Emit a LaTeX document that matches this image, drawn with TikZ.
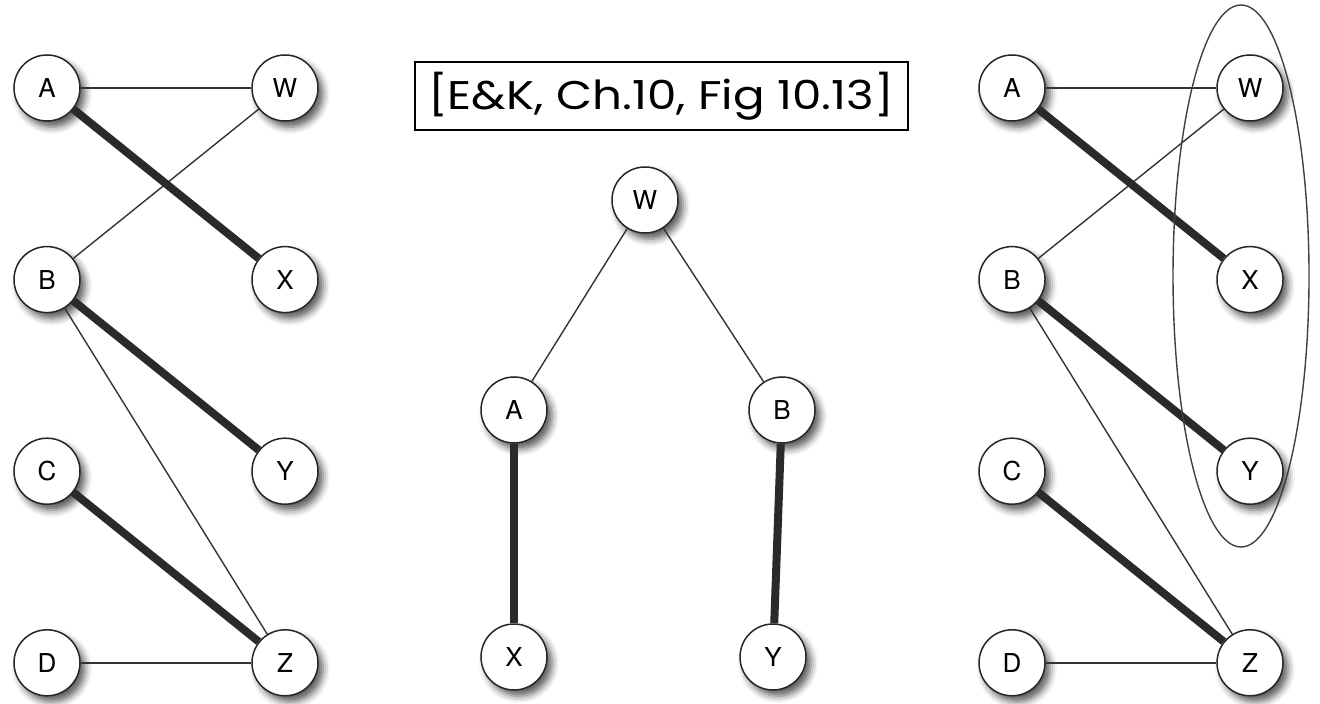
\documentclass[tikz,border=0pt]{standalone}
\usepackage{fontspec}
\setmainfont{TeX Gyre Heros}
\newfontfamily\reffont[FakeStretch=1.17]{Poppins}
\usetikzlibrary{positioning,shadows.blur}
\definecolor{edgedark}{HTML}{2A2A2A}
\tikzset{
  vert/.style={
    circle, draw=black!85, fill=white, line width=0.75pt,
    minimum size=33pt, inner sep=0pt, font=\fontsize{13}{15}\selectfont,
    blur shadow={shadow xshift=2.5pt, shadow yshift=-3pt,
      shadow blur radius=3.5pt, shadow opacity=65}
  },
  edge/.style={
    line width=0.7pt, black!80
  },
  match/.style={
    line width=4pt, edgedark
  },
  refbox/.style={
    draw, line width=1pt, minimum width=246.5pt, minimum height=34pt,
    font=\reffont\fontsize{20}{22}\selectfont
  },
  grupo/.style={
    line width=0.7pt, black!75
  }
}

\begin{document}
\begin{tikzpicture}[x=0.5pt, y=-0.5pt, on grid]
\useasboundingbox (0,0) rectangle (1320,704);

% grafo izquierdo
\node[vert] (lA) at (47,88) {A};
\node[vert, right=119pt of lA] (lW) {W};
\node[vert, below=95.8pt of lA] (lB) {B};
\node[vert, right=119pt of lB] (lX) {X};
\node[vert, below=95.8pt of lB] (lC) {C};
\node[vert, right=119pt of lC] (lY) {Y};
\node[vert, below=95.8pt of lC] (lD) {D};
\node[vert, right=119pt of lD] (lZ) {Z};

% arbol del centro
\node[vert] (mW) at (645,200) {W};
\node[vert, below left=105pt and 65.5pt of mW] (mA) {A};
\node[vert, below right=105pt and 68.5pt of mW] (mB) {B};
\node[vert, below=123.5pt of mA] (mX) {X};
\node[vert, below left=123.5pt and 4.5pt of mB] (mY) {Y};

% grafo derecho
\node[vert] (rA) at (1012,88) {A};
\node[vert, right=119pt of rA] (rW) {W};
\node[vert, below=95.8pt of rA] (rB) {B};
\node[vert, right=119pt of rB] (rX) {X};
\node[vert, below=95.8pt of rB] (rC) {C};
\node[vert, right=119pt of rC] (rY) {Y};
\node[vert, below=95.8pt of rC] (rD) {D};
\node[vert, right=119pt of rD] (rZ) {Z};

% referencia
\node[refbox] (ref) at (661,96) {[E\&K, Ch.10, Fig 10.13]};

% aristas
\draw[edge] (lA) -- (lW);
\draw[edge] (lB) -- (lW);
\draw[edge] (lB) -- (lZ);
\draw[edge] (lD) -- (lZ);
\draw[match] (lA) -- (lX);
\draw[match] (lB) -- (lY);
\draw[match] (lC) -- (lZ);

\draw[edge] (mW) -- (mA);
\draw[edge] (mW) -- (mB);
\draw[match] (mA) -- (mX);
\draw[match] (mB) -- (mY);

\draw[edge] (rA) -- (rW);
\draw[edge] (rB) -- (rW);
\draw[edge] (rB) -- (rZ);
\draw[edge] (rD) -- (rZ);
\draw[match] (rA) -- (rX);
\draw[match] (rB) -- (rY);
\draw[match] (rC) -- (rZ);

% conjunto W, X, Y
\draw[grupo] (1241,276) ellipse [x radius=34pt, y radius=135.5pt];
\end{tikzpicture}
\end{document}
